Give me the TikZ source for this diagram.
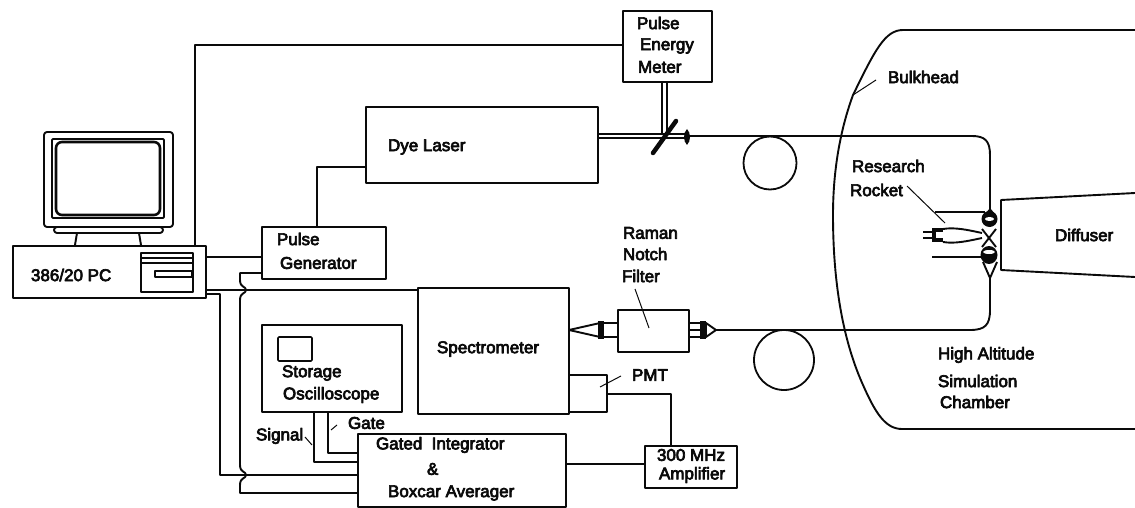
\documentclass[tikz,border=0pt]{standalone}
\usepackage{fontspec}
\setmainfont{Liberation Sans}
\newfontfamily\dkfont[RawFeature={embolden=4}]{Liberation Sans}
\usetikzlibrary{calc}
\definecolor{ink}{HTML}{0A0A0A}
\tikzset{
  x=1pt,y=-1pt,
  every path/.style={line join=round},
  wire/.style={draw=ink,line width=1.9pt},
  boxn/.style={draw=ink,line width=1.9pt,fill=white,inner sep=0,outer sep=0,anchor=north west},
  lbl/.style={anchor=west,inner sep=0,outer sep=0,text=ink,font=\dkfont\fontsize{17}{18}\selectfont},
  lead/.style={draw=ink,line width=1pt},
}
\begin{document}
\begin{tikzpicture}
\useasboundingbox (0,0) rectangle (1135,508);
% chamber / bulkhead
\draw[wire] (1135,30) -- (903,30) .. controls (885,30) and (875,50) .. (853,95)
  .. controls (842,125) and (833,165) .. (833,215)
  .. controls (833,290) and (845,345) .. (863,385)
  .. controls (875,412) and (885,429) .. (902,429) -- (1135,429);
\coordinate (bhtip) at (853,95);
\coordinate (bhlab) at (876,80);
\draw[lead] (bhlab) -- (bhtip);
% monitor
\draw[wire,rounded corners=3pt,fill=white] (54,227) rectangle (163,233);
\draw[wire] (77,233) -- (75,245) (139,233) -- (141,245) (60,246) -- (155,246);
\draw[wire,rounded corners=3pt] (44,132) rectangle (173,227);
\draw[wire,rounded corners=1pt] (52,139) rectangle (164,218);
\draw[draw=ink,line width=2.6pt,rounded corners=6pt] (56,142) rectangle (160,215);
% boxes
\node[boxn,minimum width=193,minimum height=52] (pc) at (13,246) {};
\node[boxn,minimum width=52,minimum height=39] (drive) at (141,253) {};
\draw[wire] (drive.west |- 0,258) -- (drive.east |- 0,258) (drive.west |- 0,263) -- (drive.east |- 0,263);
\node[boxn,minimum width=37,minimum height=6,line width=1.5pt] (slot) at (155,271) {};
\node[boxn,minimum width=124,minimum height=52] (pg) at (262,227) {};
\node[boxn,minimum width=232,minimum height=76] (dye) at (366,107) {};
\node[boxn,minimum width=89,minimum height=71] (pem) at (623,11) {};
\node[boxn,minimum width=151,minimum height=126] (spec) at (418,288) {};
\node[boxn,minimum width=38,minimum height=37] (pmt) at (569,375) {};
\node[boxn,minimum width=140,minimum height=87] (osc) at (262,325) {};
\node[boxn,minimum width=34,minimum height=24,rounded corners=1pt,line width=1.6pt] (oscs) at (278,337) {};
\node[boxn,minimum width=208,minimum height=73] (gi) at (358,434) {};
\node[boxn,minimum width=92,minimum height=42] (amp) at (645,446) {};
\node[boxn,minimum width=71,minimum height=42] (rnf) at (618,310) {};
\node[circle,draw=ink,line width=1.8pt,minimum size=53,inner sep=0] (c1) at (770,163) {};
\node[circle,draw=ink,line width=1.8pt,minimum size=60,inner sep=0] (c2) at (784,360) {};
\coordinate (dfa) at (1001,200);
\draw[wire] (1135,193) -- (dfa) -- (1001,270) -- (1135,277);
% wires
\draw[wire] (pc.north -| 195,0) -- (195,45) -- (pem.west |- 0,45);
\draw[wire] (pc.east |- 0,257) -- (pg.west |- 0,257);
\draw[wire] (pg.north -| 317,0) -- (317,167) -- (dye.west |- 0,167);
\draw[wire] (pc.east |- 0,290) -- (spec.west |- 0,290);
\draw[wire] (pc.east |- 0,294) -- (220,294) -- (220,475) -- (gi.west |- 0,475);
\draw[wire] (pg.west |- 0,273) -- (240,273) -- (240,280) .. controls (240,288) and (246,286) .. (246,290)
   .. controls (246,294) and (240,292) .. (240,300) -- (240,465) .. controls (240,473) and (246,471) .. (246,475)
   .. controls (246,479) and (240,477) .. (240,485) -- (240,493) -- (gi.west |- 0,493);
\draw[wire] (osc.south -| 314,0) -- (314,462) -- (gi.west |- 0,462);
\draw[wire] (osc.south -| 328,0) -- (328,453) -- (gi.west |- 0,453);
\draw[wire] (pmt.east |- 0,394) -- (671,394) -- (amp.north -| 671,0);
\draw[wire] (gi.east |- 0,464) -- (amp.west |- 0,464);
% beam
\draw[draw=ink,line width=1.3pt] (dye.east |- 0,134) -- (688,134) (dye.east |- 0,138) -- (688,138);
\draw[draw=ink,line width=1.3pt] (pem.south -| 662,0) -- (662,134) (pem.south -| 667,0) -- (667,134);
\draw[draw=ink,line width=4.5pt,line cap=round] (653,153) -- (676,121);
\fill[ink] (687,129) .. controls (691,133) and (691,141) .. (687,145) .. controls (683,141) and (683,133) .. (687,129);
\draw[wire] (687,136) -- (972,136) .. controls (985,136) and (990,141) .. (990,155) -- (990,210);
\draw[wire] (990,275) -- (990,310) .. controls (990,325) and (985,330) .. (970,330) -- (rnf.east |- 0,330);
% fibre couplers
\draw[wire,fill=white] (569,330) -- (600,323) -- (600,337) -- cycle;
\fill[ink] (598,321) rectangle (604,339);
\draw[wire] (604,323) -- (rnf.west |- 0,323) (604,337) -- (rnf.west |- 0,337);
\draw[wire] (rnf.east |- 0,323) -- (702,323) (rnf.east |- 0,337) -- (702,337);
\fill[ink] (700,321) rectangle (706,339);
\draw[wire,fill=white] (706,323) -- (716,330) -- (706,337) -- cycle;
% optics at window
\draw[wire] (935,212) -- (985,212) (932,257) -- (982,257);
\draw[wire] (982,229) -- (996,247) (996,229) -- (982,247);
\draw[wire] (983,262) -- (990,278) -- (997,262);
\fill[ink] (990,208) -- (995,214) -- (985,214) -- cycle;
\fill[ink] (989.5,219) ellipse [x radius=8,y radius=8];
\fill[white] (989.5,219) ellipse [x radius=4.5,y radius=2];
\fill[ink] (989,255) ellipse [x radius=8.5,y radius=9];
\fill[white] (989,252) ellipse [x radius=6,y radius=2];
\draw[wire] (943,229) .. controls (955,227) and (968,230) .. (982,233);
\draw[wire] (943,242) .. controls (955,244) and (968,241) .. (982,238);
\fill[ink] (932,228) rectangle (943,242);
\draw[wire] (923,232) -- (932,232) (923,238) -- (932,238);
\fill[white] (936,232) rectangle (943,238);
% labels
\node[lbl] (t1) at (31,275) {386/20 PC};
\node[lbl] (t2) at (277,239) {Pulse};
\node[lbl] (t3) at (280,263) {Generator};
\node[lbl] (t4) at (388,147) {Dye Laser};
\node[lbl] (t5) at (637,23) {Pulse};
\node[lbl] (t6) at (640,46) {Energy};
\node[lbl] (t7) at (638,67) {Meter};
\node[lbl] (t8) at (888,77) {Bulkhead};
\node[lbl] (t9) at (852,166) {Research};
\node[lbl] (t10) at (850,190) {Rocket};
\node[lbl] (t11) at (1055,235) {Diffuser};
\node[lbl] (t12) at (437,349) {Spectrometer};
\node[lbl] (t13) at (282,373) {Storage};
\node[lbl] (t14) at (283,395) {Oscilloscope};
\node[lbl] (t15) at (348,423) {Gate};
\node[lbl] (t16) at (256,436) {Signal};
\node[lbl] (t17) at (376,445) {Gated\ \ Integrator};
\node[lbl] (t18) at (427,469) {\&};
\node[lbl] (t19) at (388,493) {Boxcar Averager};
\node[lbl] (t20) at (657,455) {300 MHz};
\node[lbl] (t21) at (659,475) {Amplifier};
\node[lbl] (t22) at (632,375) {PMT};
\node[lbl] (t23) at (623,233) {Raman};
\node[lbl] (t24) at (623,254) {Notch};
\node[lbl] (t25) at (622,276) {Filter};
\node[lbl] (t26) at (938,355) {High Altitude};
\node[lbl] (t27) at (938,381) {Simulation};
\node[lbl] (t28) at (940,402) {Chamber};
% leaders
\draw[lead] (635,289) -- (649,328);
\draw[lead] (621,376) -- (600,387);
\draw[lead] (305,437) -- (312,445);
\draw[lead] (331,430) -- (337,425);
\draw[lead] (907,186) -- (945,223);
\end{tikzpicture}
\end{document}
